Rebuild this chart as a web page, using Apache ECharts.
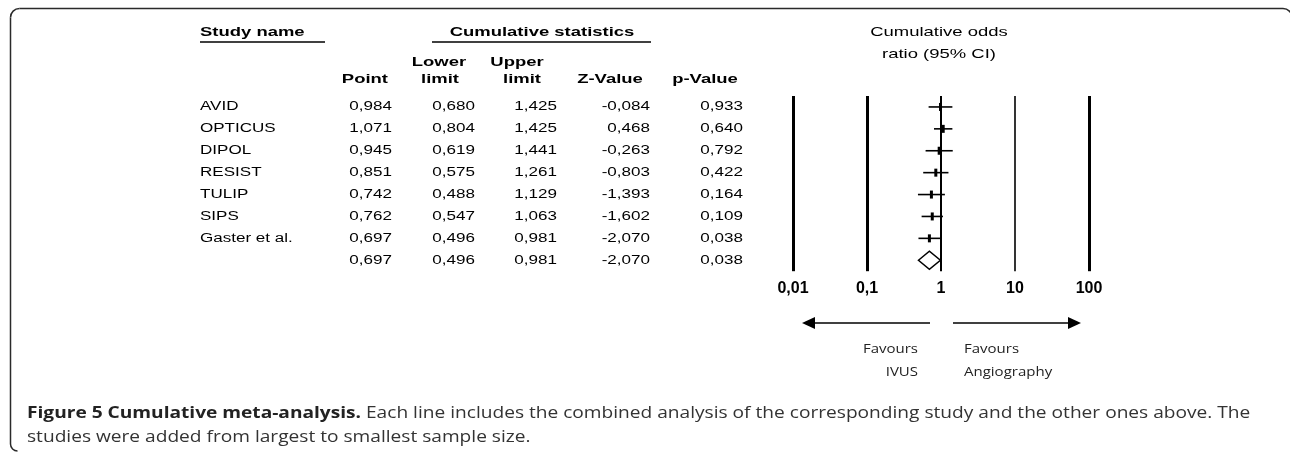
<!DOCTYPE html>
<html>
<head>
<meta charset="utf-8">
<script src="https://cdn.jsdelivr.net/npm/echarts/dist/echarts.min.js"></script>
<style>
html,body{margin:0;padding:0;background:#fff;overflow:hidden;}
#chart{width:1290px;height:452px;}
</style>
</head>
<body>
<div id="chart"></div>
<script>
// ---- data ----
var studyNames = ['AVID', 'OPTICUS', 'DIPOL', 'RESIST', 'TULIP', 'SIPS', 'Gaster et al.', ''];
var pointVals  = [0.984, 1.071, 0.945, 0.851, 0.742, 0.762, 0.697, 0.697];
var lowerVals  = [0.680, 0.804, 0.619, 0.575, 0.488, 0.547, 0.496, 0.496];
var upperVals  = [1.425, 1.425, 1.441, 1.261, 1.129, 1.063, 0.981, 0.981];
var zVals      = [-0.084, 0.468, -0.263, -0.803, -1.393, -1.602, -2.070, -2.070];
var pVals      = [0.933, 0.640, 0.792, 0.422, 0.164, 0.109, 0.038, 0.038];
var summaryRow = 7;
var axisTicks  = [0.01, 0.1, 1, 10, 100];

function fmt(v){ return v.toFixed(3).replace('.', ','); }

var FONT = '"Liberation Sans", Arial, sans-serif';
var SX = 1.42;

var chart = echarts.init(document.getElementById('chart'), null, {renderer:'canvas'});

var rowData = studyNames.map(function(n, i){
  return [pointVals[i], i, lowerVals[i], upperVals[i], zVals[i], pVals[i]];
});

var colRight = [392, 475, 557, 650, 743];

function tableItem(params, api){
  var i = api.value(1);
  var y = api.coord([1, i])[1];
  var vals = [api.value(0), api.value(2), api.value(3), api.value(4), api.value(5)];
  var children = [];
  children.push({
    type:'text', x:200, y:y, scaleX:SX, silent:true,
    style:{text:studyNames[i], x:0, y:0, align:'left', textAlign:'left', verticalAlign:'middle', textVerticalAlign:'middle',
      fontSize:12, fontFamily:FONT, fill:'#000'}
  });
  vals.forEach(function(v, k){
    children.push({
      type:'text', x:colRight[k], y:y, scaleX:SX, silent:true,
      style:{text:fmt(v), x:0, y:0, align:'right', textAlign:'right', verticalAlign:'middle', textVerticalAlign:'middle',
        fontSize:12, fontFamily:FONT, fill:'#000'}
    });
  });
  return {type:'group', children:children};
}

function forestItem(params, api){
  var i = api.value(1);
  var pc = api.coord([api.value(0), i]);
  var lc = api.coord([api.value(2), i]);
  var uc = api.coord([api.value(3), i]);
  var y = pc[1];
  if (i === summaryRow) {
    return {
      type:'polygon',
      shape:{points:[[lc[0], y], [pc[0], y-9], [uc[0], y], [pc[0], y+9]]},
      style:{fill:'#fff', stroke:'#000', lineWidth:1.5}
    };
  }
  return {type:'group', children:[
    {type:'line', shape:{x1:lc[0], y1:y, x2:uc[0], y2:y}, style:{stroke:'#000', lineWidth:1.6}},
    {type:'rect', shape:{x:pc[0]-1.5, y:y-4, width:3, height:8}, style:{fill:'#000'}}
  ]};
}

var lineWidths = {0.01:3, 0.1:3, 1:2, 10:1.6, 100:3};

function hText(txt, x, y, align, bold){
  return {type:'text', x:x, y:y, scaleX:SX, silent:true,
    style:{text:txt, x:0, y:0, align:align, textAlign:align, verticalAlign:'middle', textVerticalAlign:'middle',
      fontSize:13, fontWeight:bold ? 'bold' : 'normal', fontFamily:FONT, fill:'#000'}};
}
function fText(txt, x, y, align){
  return {type:'text', x:x, y:y, scaleX:1.25, silent:true,
    style:{text:txt, x:0, y:0, align:align, textAlign:align, verticalAlign:'middle', textVerticalAlign:'middle',
      fontSize:12, fontFamily:'"Open Sans", sans-serif', fill:'#222'}};
}

var captionText = '{b|Figure 5 Cumulative meta-analysis.} Each line includes the combined analysis of the corresponding study and the other ones above. The\nstudies were added from largest to smallest sample size.';

var FRAME = {stroke:'#2a2a2a', lineWidth:1.5, fill:'none'};

var option = {
  backgroundColor:'#fff',
  animation:false,
  grid:{left:793, width:296, top:96, height:175.2, containLabel:false},
  xAxis:{
    type:'log', logBase:10, min:0.01, max:100,
    axisLine:{show:false}, axisTick:{show:false}, splitLine:{show:false},
    axisLabel:{
      show:true, margin:9, fontSize:16, fontWeight:'bold', fontFamily:FONT, color:'#000',
      showMinLabel:true, showMaxLabel:true,
      formatter:function(v){ return String(+Number(v).toPrecision(6)).replace('.', ','); }
    }
  },
  yAxis:{
    type:'category', inverse:true, data:studyNames.map(function(n,i){return n || ('row' + i);}),
    show:false
  },
  series:[
    {
      type:'custom', name:'table', renderItem:tableItem, data:rowData,
      encode:{x:0, y:1}, clip:false, silent:true, z:5
    },
    {
      type:'custom', name:'forest', renderItem:forestItem, data:rowData,
      encode:{x:0, y:1}, clip:false, silent:true, z:10,
      markLine:{
        silent:true, symbol:'none', label:{show:false},
        data:axisTicks.map(function(v){ return {xAxis:v, lineStyle:{color:'#000', width:lineWidths[v], type:'solid'}}; })
      }
    }
  ],
  graphic:[
    // frame
    {type:'line', silent:true, shape:{x1:19.5, y1:8.5, x2:1283, y2:8.5}, style:FRAME},
    {type:'line', silent:true, shape:{x1:10.5, y1:17.5, x2:10.5, y2:444}, style:FRAME},
    {type:'arc', silent:true, shape:{cx:19.5, cy:17.5, r:9, startAngle:Math.PI, endAngle:Math.PI*1.5, clockwise:true}, style:FRAME},
    {type:'arc', silent:true, shape:{cx:1283, cy:17.5, r:9, startAngle:Math.PI*1.5, endAngle:Math.PI*2, clockwise:true}, style:FRAME},
    {type:'arc', silent:true, shape:{cx:17.5, cy:444, r:7, startAngle:Math.PI*0.5, endAngle:Math.PI, clockwise:true}, style:FRAME},
    hText('Study name', 200, 32, 'left', true),
    {type:'line', shape:{x1:200, y1:42, x2:325, y2:42}, style:{stroke:'#000', lineWidth:1.5}},
    hText('Cumulative statistics', 542, 32, 'center', true),
    {type:'line', shape:{x1:432, y1:42, x2:651, y2:42}, style:{stroke:'#000', lineWidth:1.5}},
    hText('Point', 388, 79, 'right', true),
    hText('Lower', 439, 62, 'center', true),
    hText('limit', 440, 79, 'center', true),
    hText('Upper', 517, 62, 'center', true),
    hText('limit', 522, 79, 'center', true),
    hText('Z-Value', 610, 79, 'center', true),
    hText('p-Value', 705, 79, 'center', true),
    hText('Cumulative odds', 939, 32, 'center', false),
    hText('ratio (95% CI)', 939, 54, 'center', false),
    // arrows
    {type:'line', shape:{x1:930, y1:323, x2:812, y2:323}, style:{stroke:'#000', lineWidth:1.6}},
    {type:'polygon', shape:{points:[[802,323],[815,317],[815,329]]}, style:{fill:'#000'}},
    {type:'line', shape:{x1:953, y1:323, x2:1070, y2:323}, style:{stroke:'#000', lineWidth:1.6}},
    {type:'polygon', shape:{points:[[1081,323],[1068,317],[1068,329]]}, style:{fill:'#000'}},
    fText('Favours', 918, 350, 'right'),
    fText('IVUS', 918, 373, 'right'),
    fText('Favours', 964, 350, 'left'),
    fText('Angiography', 964, 373, 'left'),
    {type:'text', x:27, y:401, scaleX:1.195, silent:true,
      style:{text:captionText, x:0, y:0, align:'left', verticalAlign:'top',
        fontFamily:'"Open Sans", sans-serif', fontSize:16, fill:'#333', lineHeight:24,
        rich:{b:{fontFamily:'"Open Sans", sans-serif', fontSize:16, fontWeight:'bold', fill:'#222', lineHeight:24}}}}
  ]
};
chart.setOption(option);
</script>
</body>
</html>
